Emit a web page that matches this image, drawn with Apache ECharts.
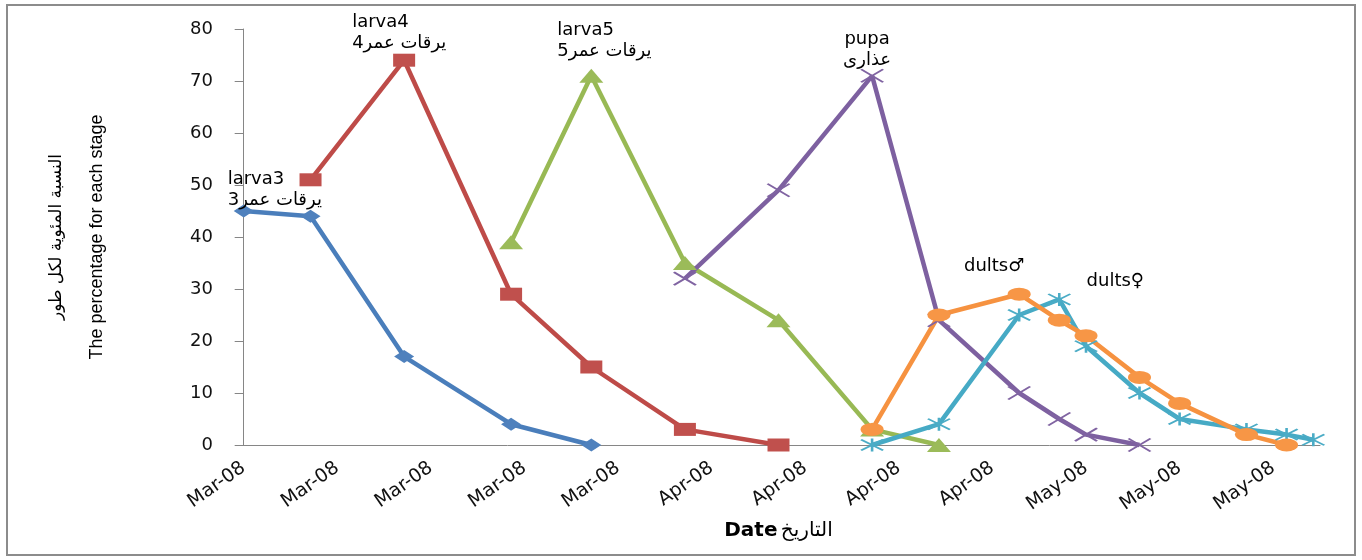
<!DOCTYPE html>
<html>
<head>
<meta charset="utf-8">
<script src="https://cdn.jsdelivr.net/npm/echarts@6/dist/echarts.min.js"></script>
<style>
  html, body { margin: 0; padding: 0; background: #fff; }
  #chart { width: 1362px; height: 560px; }
</style>
</head>
<body>
<div id="chart"></div>
<script>
// Sampling dates and percentage of individuals in each stage
const larva3Dates  = ['2008-03-01', '2008-03-06', '2008-03-13', '2008-03-21', '2008-03-27'];
const larva3Values = [45, 44, 17, 4, 0];

const larva4Dates  = ['2008-03-06', '2008-03-13', '2008-03-21', '2008-03-27', '2008-04-03', '2008-04-10'];
const larva4Values = [51, 74, 29, 15, 3, 0];

const larva5Dates  = ['2008-03-21', '2008-03-27', '2008-04-03', '2008-04-10', '2008-04-17', '2008-04-22'];
const larva5Values = [39, 71, 35, 24, 3, 0];

const pupaDates  = ['2008-04-03', '2008-04-10', '2008-04-17', '2008-04-22', '2008-04-28', '2008-05-01', '2008-05-03', '2008-05-07'];
const pupaValues = [32, 49, 71, 24, 10, 5, 2, 0];

const femaleDates  = ['2008-04-17', '2008-04-22', '2008-04-28', '2008-05-01', '2008-05-03', '2008-05-07', '2008-05-10', '2008-05-15', '2008-05-18', '2008-05-20'];
const femaleValues = [0, 4, 25, 28, 19, 10, 5, 3, 2, 1];

const maleDates  = ['2008-04-17', '2008-04-22', '2008-04-28', '2008-05-01', '2008-05-03', '2008-05-07', '2008-05-10', '2008-05-15', '2008-05-18'];
const maleValues = [3, 25, 29, 24, 21, 13, 8, 2, 0];

// Weekly date ticks on the x axis
const tickDates  = ['2008-03-01', '2008-03-08', '2008-03-15', '2008-03-22', '2008-03-29', '2008-04-05',
                    '2008-04-12', '2008-04-19', '2008-04-26', '2008-05-03', '2008-05-10', '2008-05-17'];
const tickLabels = ['Mar-08', 'Mar-08', 'Mar-08', 'Mar-08', 'Mar-08', 'Apr-08',
                    'Apr-08', 'Apr-08', 'Apr-08', 'May-08', 'May-08', 'May-08'];

const startDate = tickDates[0];
function dayOf(s) {
  const p = s.split('-').map(Number), q = startDate.split('-').map(Number);
  return Math.round((Date.UTC(p[0], p[1] - 1, p[2]) - Date.UTC(q[0], q[1] - 1, q[2])) / 86400000);
}
const tickDays = tickDates.map(dayOf);

const LABEL_FONT = { color: '#000', fontFamily: 'DejaVu Sans', fontSize: 18, lineHeight: 21 };

function stageData(dates, values, labelIndex, label) {
  return dates.map((d, i) => {
    const item = { value: [dayOf(d), values[i]] };
    if (i === labelIndex) {
      item.label = Object.assign({ show: true, position: 'inside', verticalAlign: 'top' }, LABEL_FONT, label);
    }
    return item;
  });
}

const CROSS = 'path://M0,0L10,10M10,0L0,10';
const STAR = 'path://M0,0L10,10M10,0L0,10M5,-1L5,11';
const ELLIPSE = 'path://M0,5A5,5 0 1,0 10,5A5,5 0 1,0 0,5Z';

function stageSeries(name, data, line, fill, symbol, size, stroked) {
  return {
    name, type: 'line', data, clip: false,
    symbol, symbolSize: size, symbolKeepAspect: false,
    lineStyle: { width: 4.5, color: line },
    itemStyle: stroked ? { color: fill, borderColor: fill, borderWidth: 2 } : { color: fill, borderWidth: 0 },
    label: { show: false },
    emphasis: { disabled: true },
    z: 2
  };
}

const chart = echarts.init(document.getElementById('chart'), null, { renderer: 'canvas' });
chart.setOption({
  animation: false,
  backgroundColor: '#fff',
  grid: { left: 237, right: 42, top: 29, bottom: 115, containLabel: false },
  xAxis: {
    type: 'value', min: -0.5, max: 80.5,
    axisLine: { show: true, onZero: false, lineStyle: { color: '#868686', width: 1 } },
    axisTick: { show: false },
    splitLine: { show: false },
    axisLabel: {
      customValues: tickDays,
      rotate: 35, margin: 21,
      color: '#111', fontFamily: 'DejaVu Sans', fontSize: 19,
      formatter: v => tickLabels[tickDays.indexOf(v)]
    },
    name: '{b|Date} {a|التاريخ}',
    nameLocation: 'middle', nameGap: 71,
    nameTextStyle: {
      rich: {
        b: { fontFamily: 'DejaVu Sans', fontWeight: 'bold', fontSize: 20, color: '#000' },
        a: { fontFamily: 'DejaVu Sans', fontSize: 20, color: '#000' }
      }
    }
  },
  yAxis: {
    type: 'value', min: 0, max: 80, interval: 10,
    axisLine: { show: true, lineStyle: { color: '#868686', width: 1 } },
    axisTick: { show: true, length: 9, lineStyle: { color: '#868686' } },
    splitLine: { show: false },
    axisLabel: { margin: 24, color: '#111', fontFamily: 'DejaVu Sans', fontSize: 18 },
    name: '{ar|النسبة المئوية لكل طور}\n{en|The percentage for each stage}',
    nameLocation: 'middle', nameRotate: 90, nameGap: 120,
    nameTextStyle: {
      rich: {
        ar: { fontFamily: 'DejaVu Sans', fontSize: 17, lineHeight: 40, color: '#000' },
        en: { fontFamily: 'Liberation Sans', fontSize: 18, lineHeight: 40, color: '#000' }
      }
    }
  },
  graphic: [{
    type: 'rect', silent: true, z: -1,
    shape: { x: 7, y: 5, width: 1348, height: 550 },
    style: { fill: 'none', stroke: '#8c8c8c', lineWidth: 2 }
  }],
  series: [
    stageSeries('larva3', stageData(larva3Dates, larva3Values, 0,
      { formatter: 'larva3\nيرقات عمر3', align: 'left', offset: [-16, -42] }),
      '#4A7EBB', '#4F81BD', 'diamond', [20, 13], false),
    stageSeries('larva4', stageData(larva4Dates, larva4Values, 1,
      { formatter: 'larva4\nيرقات عمر4', align: 'left', offset: [-52, -48] }),
      '#BE4B48', '#C0504D', 'rect', [22, 13], false),
    stageSeries('larva5', stageData(larva5Dates, larva5Values, 1,
      { formatter: 'larva5\nيرقات عمر5', align: 'left', offset: [-34, -56] }),
      '#98B954', '#9BBB59', 'triangle', [24, 14], false),
    stageSeries('pupa', stageData(pupaDates, pupaValues, 2,
      { formatter: 'pupa\nعذارى', align: 'center', offset: [-5, -47] }),
      '#7D60A0', '#8064A2', CROSS, [22, 13], true),
    stageSeries('adults♀', stageData(femaleDates, femaleValues, 3,
      { formatter: 'dults♀', align: 'center', offset: [56, -29] }),
      '#46AAC5', '#4BACC6', STAR, [22, 13], true),
    stageSeries('adults♂', stageData(maleDates, maleValues, 2,
      { formatter: 'dults♂', align: 'center', offset: [-25, -38] }),
      '#F69240', '#F79646', ELLIPSE, [23, 13], false)
  ]
});
</script>
</body>
</html>
